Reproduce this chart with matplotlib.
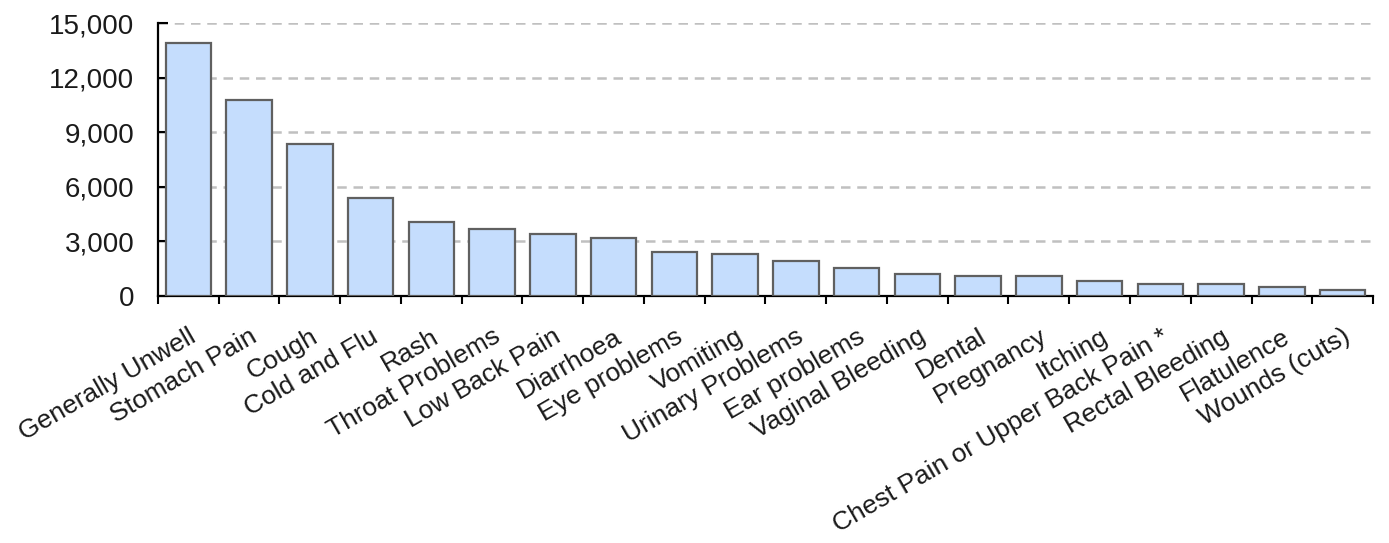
import matplotlib
matplotlib.use("Agg")
import matplotlib.pyplot as plt
from matplotlib.ticker import FuncFormatter, FixedLocator
import numpy as np

plt.rcParams['font.family'] = ['Liberation Sans', 'DejaVu Sans']

categories = ['Generally Unwell', 'Stomach Pain', 'Cough', 'Cold and Flu', 'Rash',
              'Throat Problems', 'Low Back Pain', 'Diarrhoea', 'Eye problems', 'Vomiting',
              'Urinary Problems', 'Ear problems', 'Vaginal Bleeding', 'Dental', 'Pregnancy',
              'Itching', 'Chest Pain or Upper Back Pain *', 'Rectal Bleeding', 'Flatulence',
              'Wounds (cuts)']
values = [13900, 10750, 8330, 5390, 4090, 3670, 3400, 3190, 2420, 2280,
          1940, 1520, 1230, 1080, 1080, 830, 670, 670, 510, 310]

fig = plt.figure(figsize=(13.89, 5.43), dpi=100)
ax = fig.add_axes([0.1137, 0.4549, 0.8748, 0.5027])

x = np.arange(len(categories))
ax.bar(x, values, width=0.75, color='#C5DDFD', edgecolor='#606060', linewidth=1.6, zorder=3)

ax.set_xlim(-0.5, len(categories) - 0.5)
ax.set_ylim(0, 15000)
ax.set_yticks(np.arange(0, 15001, 3000))
ax.yaxis.set_major_formatter(FuncFormatter(lambda v, p: f'{int(v):,}'))
ax.tick_params(axis='y', direction='in', length=7, width=1.5, labelsize=20, pad=17,
               color='black', labelcolor='#1a1a1a')

ax.set_xticks(x)
ax.set_xticklabels(categories, rotation=30, ha='right', rotation_mode='anchor', fontsize=19,
                   color='#1a1a1a')
ax.tick_params(axis='x', which='major', length=0, pad=20.5)
ax.xaxis.set_minor_locator(FixedLocator(np.arange(-0.5, len(categories), 1.0)))
ax.tick_params(axis='x', which='minor', direction='out', length=6, width=1.5)

for v in range(3000, 15001, 3000):
    ax.axhline(v, color='#C0C0C0', linewidth=1.8, linestyle=(0, (3.8, 2.7)), zorder=1)

for s in ['top', 'right']:
    ax.spines[s].set_visible(False)
for s in ['left', 'bottom']:
    ax.spines[s].set_linewidth(1.6)
    ax.spines[s].set_color('black')

fig.savefig('out.png', dpi=100)
